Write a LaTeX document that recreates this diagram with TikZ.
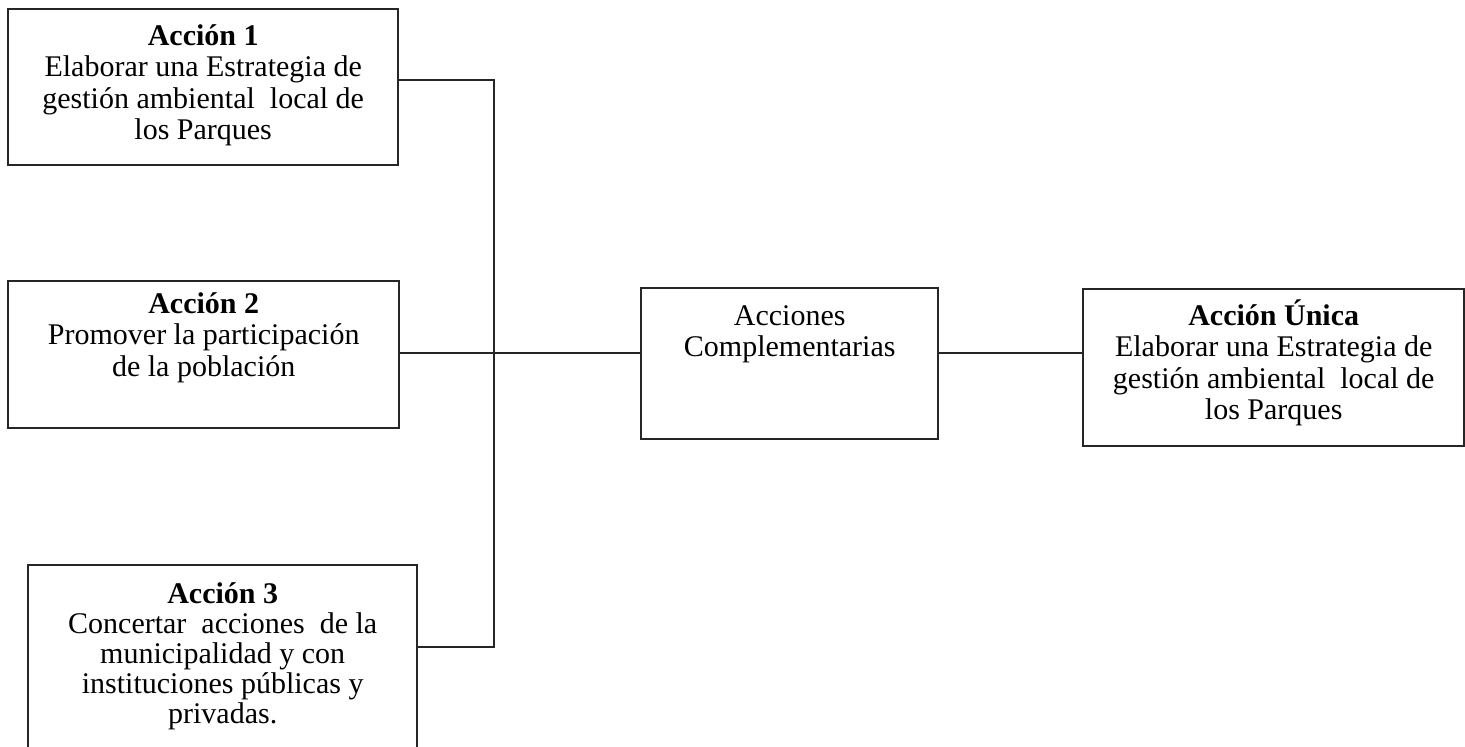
\documentclass[tikz,border=0pt]{standalone}
\usepackage{fontspec}
\setmainfont{Liberation Serif}
\usetikzlibrary{positioning}

% text at the top of a fixed-size box: width, height, first baseline, text
\newcommand{\textocaja}[4]{\parbox[c][#2][t]{#1}{\centering\rule{0pt}{#3}#4}}

\begin{document}
\begin{tikzpicture}[x=0.5pt, y=-0.5pt,
    caja/.style={draw=black!85, line width=1.2pt, inner sep=0pt, anchor=north west,
      font=\fontsize{15pt}{15.8pt}\selectfont},
    linea/.style={draw=black!85, line width=1.2pt}]
    \useasboundingbox (0,0) rectangle (1465,747);
    \node[caja] (A1) at (7,8) {\textocaja{195pt}{78pt}{18pt}{\textbf{Acción 1}\\
        Elaborar una Estrategia de\\ gestión ambiental~ local de\\ los Parques}};
    \node[caja] (A2) at (7,280) {\textocaja{195.5pt}{73.5pt}{16pt}{\textbf{Acción 2}\\
        Promover la participación\\ de la población}};
    \node[caja, font=\fontsize{15pt}{15pt}\selectfont] (A3) at (27,564)
        {\textocaja{194.5pt}{103pt}{19pt}{\textbf{Acción 3}\\
        Concertar~ acciones~ de la\\ municipalidad y con\\ instituciones públicas y\\ privadas.}};
    \node[caja] (AC) at (640,287) {\textocaja{148.5pt}{75.5pt}{18.5pt}{Acciones\\ Complementarias}};
    \node[caja] (AU) at (1082,288) {\textocaja{190.5pt}{78.5pt}{18pt}{\textbf{Acción Única}\\
        Elaborar una Estrategia de\\ gestión ambiental~ local de\\ los Parques}};
    % junctions on the vertical line
    \coordinate (J1) at (494,80);
    \coordinate (J2) at (494,353);
    \coordinate (J3) at (494,647);
    \path[linea]
        (A1.east |- J1) -- (J1) -- (J3) -- (A3.east |- J3)
        (A2.east |- J2) -- (AC.west |- J2)
        (AC.east |- J2) -- (AU.west |- J2);
\end{tikzpicture}
\end{document}
